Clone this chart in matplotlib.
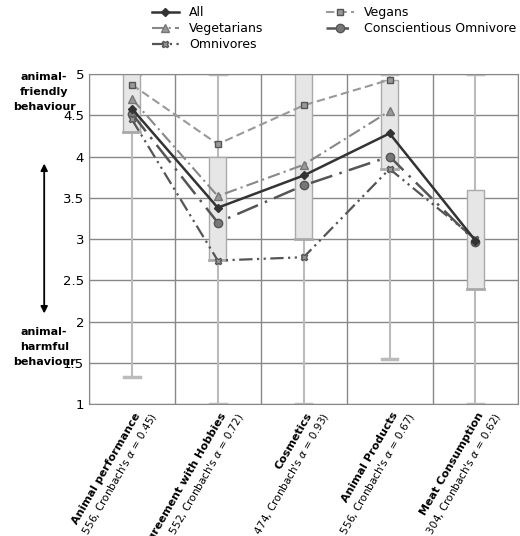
import matplotlib
matplotlib.use("Agg")
import matplotlib.pyplot as plt
import numpy as np

cats = ["Animal performance", "Agreement with Hobbies", "Cosmetics", "Animal Products", "Meat Consumption"]
ns = [556, 552, 474, 556, 304]
alphas = ["0.45", "0.72", "0.93", "0.67", "0.62"]
box_lo = [4.3, 2.75, 3.0, 3.85, 2.4]
box_hi = [5.0, 4.0, 5.0, 4.93, 3.6]
wh_lo = [1.33, 1.0, 1.0, 1.55, 1.0]
wh_hi = [5.0, 5.0, 5.0, 5.0, 5.0]
all_v = [4.58, 3.38, 3.77, 4.28, 2.98]
vegans = [4.87, 4.15, 4.62, 4.93]
vegetarians = [4.7, 3.52, 3.9, 4.55]
conscientious = [4.52, 3.2, 3.65, 4.0, 2.97]
omnivores = [4.45, 2.74, 2.78, 3.85, 3.0]

fig = plt.figure(figsize=(5.2, 5.36), dpi=100)
ax = fig.add_axes([0.171, 0.246, 0.826, 0.616])
x = np.arange(len(cats))
for i in x:
    ax.plot([i, i], [wh_lo[i], wh_hi[i]], color="#bbbbbb", lw=1.5, zorder=1)
    for yy in (wh_lo[i], wh_hi[i]):
        ax.plot([i-0.09, i+0.09], [yy, yy], color="#bbbbbb", lw=2.5, zorder=1)
    ax.bar(i, box_hi[i]-box_lo[i], bottom=box_lo[i], width=0.2, color="#e6e6e6",
           edgecolor="#aaaaaa", lw=1, zorder=2)
    ax.plot([i-0.1, i+0.1], [box_lo[i]]*2, color="#aaaaaa", lw=2, zorder=2)

ax.plot(x, all_v, color="#333333", lw=1.8, marker="D", ms=4, zorder=5, label="All")
ax.plot(x[:4], vegans, color="#999999", lw=1.5, ls=(0, (4, 2)), marker="s", ms=5,
        mfc="#999999", mec="#555555", zorder=4, label="Vegans")
ax.plot(x[:4], vegetarians, color="#888888", lw=1.5, ls=(0, (6, 2, 1, 2)), marker="^", ms=6,
        mfc="#999999", mec="#777777", zorder=4, label="Vegetarians")
ax.plot(x, conscientious, color="#555555", lw=1.8, ls=(0, (9, 3, 1, 3)), marker="o", ms=6,
        mfc="#777777", mec="#555555", zorder=4, label="Conscientious Omnivore")
ax.plot(x, omnivores, color="#555555", lw=1.6, ls=(0, (6, 2, 1, 2, 1, 2)), marker="X", ms=5,
        mfc="#999999", mec="#555555", zorder=4, label="Omnivores")

ax.set_xlim(-0.5, 4.5)
ax.set_ylim(1, 5)
ax.set_yticks(np.arange(1, 5.01, 0.5))
ax.set_yticklabels(["1", "1.5", "2", "2.5", "3", "3.5", "4", "4.5", "5"], fontsize=9.5)
ax.set_xticks(np.arange(-0.5, 4.6, 1), minor=False)
ax.set_xticklabels([])
ax.tick_params(length=0)
ax.grid(True, color="#888888", lw=1)
for s in ax.spines.values():
    s.set_color("#888888")
ax.set_axisbelow(True)

for i, c in enumerate(cats):
    ax.text(i+0.02, 0.92, c, rotation=60, ha="right", va="top", fontsize=8, fontweight="bold",
            rotation_mode="anchor")
    ax.text(i+0.2, 0.92, f"($n$ = {ns[i]}, Cronbach's $\\alpha$ = {alphas[i]})", rotation=60,
            ha="right", va="top", fontsize=7.5, rotation_mode="anchor")

fig.text(0.085, 0.865, "animal-\nfriendly\nbehaviour", ha="center", va="top", fontsize=8, fontweight="bold", linespacing=1.6)
fig.text(0.085, 0.39, "animal-\nharmful\nbehaviour", ha="center", va="top", fontsize=8, fontweight="bold", linespacing=1.6)
fig.add_artist(matplotlib.patches.FancyArrowPatch((0.085, 0.70), (0.085, 0.41), transform=fig.transFigure,
               arrowstyle="<|-|>", mutation_scale=10, color="black", lw=1.3))

h, l = ax.get_legend_handles_labels()
order = [0, 2, 4, 1, 3]
fig.legend([h[k] for k in order], [l[k] for k in order], ncol=2, loc="upper left",
           bbox_to_anchor=(0.27, 1.01), frameon=False, fontsize=9, handlelength=2.2,
           columnspacing=5, labelspacing=0.25)
fig.savefig("out.png", dpi=100)
